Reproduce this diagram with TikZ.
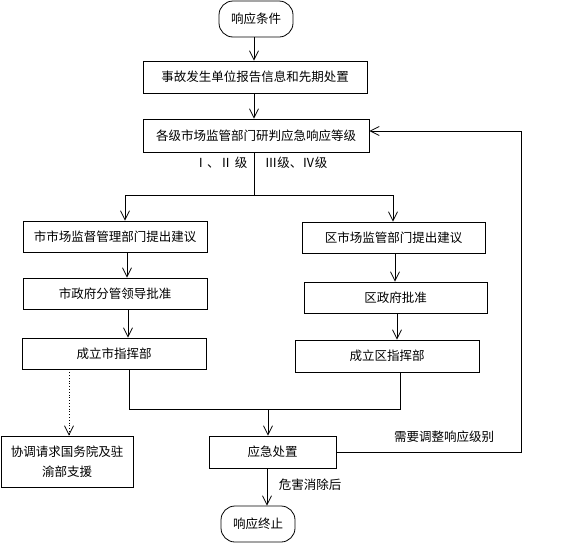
\documentclass[tikz,border=0pt]{standalone}
\usepackage{fontspec}
\setmainfont{Noto Sans CJK SC}
\usetikzlibrary{arrows.meta,calc}
\begin{document}
\begin{tikzpicture}[x=1pt,y=-1pt,
  every node/.style={font=\fontsize{12.5}{20}\selectfont, inner sep=0pt},
  box/.style={draw, line width=0.8pt, minimum width=#1, align=center},
  term/.style={draw, line width=0.8pt, rounded corners=14pt, minimum width=74pt, minimum height=36pt},
  conn/.style={line width=0.8pt},
  arr/.style={conn, -{Straight Barb[length=9pt,width=9pt]}},
  lab/.style={font=\fontsize{12.5}{15}\selectfont}
]
\useasboundingbox (0,0) rectangle (567,544);
% nodes
\node[term] (start) at (256,19) {响应条件};
\node[box=224pt, minimum height=32pt] (b1) at (255,77) {事故发生单位报告信息和先期处置};
\node[box=226pt, minimum height=33pt] (b2) at (256,135.5) {各级市场监管部门研判应急响应等级};
\node[box=184pt, minimum height=31pt] (a1) at (115,236.5) {市市场监督管理部门提出建议};
\node[box=184pt, minimum height=31pt] (a2) at (115,293.5) {市政府分管领导批准};
\node[box=184pt, minimum height=31pt] (a3) at (114,353.5) {成立市指挥部};
\node[box=183pt, minimum height=31pt] (r1) at (393.5,237.5) {区市场监管部门提出建议};
\node[box=183pt, minimum height=31pt] (r2) at (395.5,297.5) {区政府批准};
\node[box=184pt, minimum height=32pt] (r3) at (387,356) {成立区指挥部};
\node[box=132pt, minimum height=51pt] (c) at (67,461.5) {协调请求国务院及驻\\渝部支援};
\node[box=127pt, minimum height=32pt] (d) at (272.5,452) {应急处置};
\node[term] (end) at (258,524) {响应终止};
% labels
\node[lab] (l1) at (221,163) {Ⅰ、Ⅱ 级};
\node[lab] (l2) at (296,163) {Ⅲ级、Ⅳ级};
\node[lab] (l3) at (444,437) {需要调整响应级别};
\node[lab] (l4) at (310,485) {危害消除后};
% coordinates
\coordinate (xs) at (254,0);
\coordinate (split) at (254,195);
\coordinate (sl) at (125,195);
\coordinate (sr) at (393,195);
\coordinate (xa) at (127,0);
\coordinate (xa2) at (128,0);
\coordinate (xa3) at (129,0);
\coordinate (xb) at (395,0);
\coordinate (xb2) at (397,0);
\coordinate (xb3) at (400,0);
\coordinate (merge) at (268,409);
\coordinate (ml) at (129,409);
\coordinate (mr) at (400,409);
\coordinate (xdot) at (69,0);
\coordinate (xe) at (267,0);
\coordinate (fb1) at (521,452);
\coordinate (fb2) at (521,131);
% connectors
\draw[arr] (start.south -| xs) -- (b1.north -| xs);
\draw[arr] (b1.south -| xs) -- (b2.north -| xs);
\draw[conn] (b2.south -| xs) -- (split);
\draw[conn] (sl) -- (sr);
\draw[arr] (sl) -- (a1.north -| sl);
\draw[arr] (sr) -- (r1.north -| sr);
\draw[arr] (a1.south -| xa) -- (a2.north -| xa);
\draw[arr] (a2.south -| xa2) -- (a3.north -| xa2);
\draw[arr] (r1.south -| xb) -- (r2.north -| xb);
\draw[arr] (r2.south -| xb2) -- (r3.north -| xb2);
\draw[conn] (a3.south -| xa3) -- (ml) -- (mr) -- (r3.south -| xb3);
\draw[arr] (merge) -- (d.north -| merge);
\draw[arr, dotted] (a3.south -| xdot) -- (c.north -| xdot);
\draw[arr] (d.south -| xe) -- (end.north -| xe);
\draw[conn] (d.east |- fb1) -- (fb1) -- (fb2);
\draw[arr] (fb2) -- (b2.east |- fb2);
\end{tikzpicture}
\end{document}
